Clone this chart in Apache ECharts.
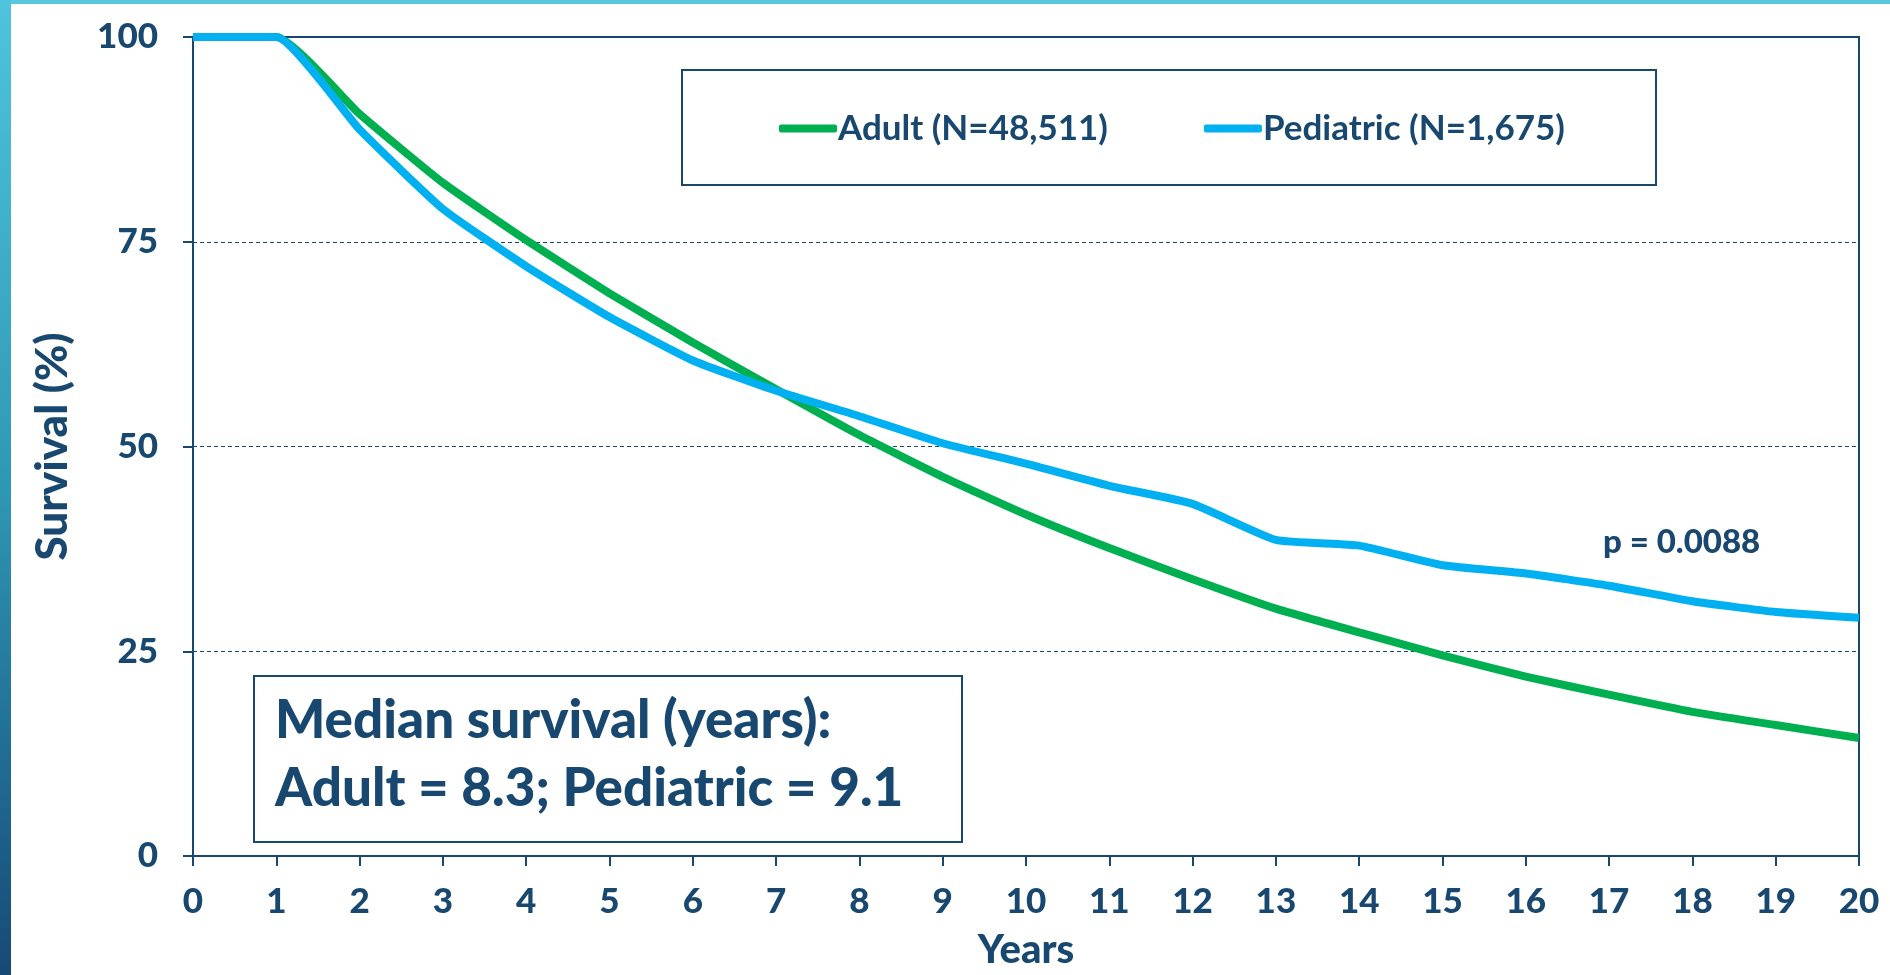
<!DOCTYPE html>
<html>
<head>
<meta charset="utf-8">
<script src="https://cdn.jsdelivr.net/npm/echarts@6/dist/echarts.min.js"></script>
<style>
  html, body { margin: 0; padding: 0; background: #fff; }
  #chart { width: 1890px; height: 975px; }
</style>
</head>
<body>
<div id="chart"></div>
<script>
// survival curves, one value per year
const years = [0, 1, 2, 3, 4, 5, 6, 7, 8, 9, 10, 11, 12, 13, 14, 15, 16, 17, 18, 19, 20];
const adult = [100, 100, 90.6, 82.2, 75.2, 68.7, 62.7, 57.0, 51.4, 46.3, 41.7, 37.6, 33.8, 30.2, 27.3, 24.5, 21.9, 19.7, 17.6, 16.0, 14.4];
const pediatric = [100, 100, 88.7, 79.0, 72.0, 65.8, 60.5, 56.8, 53.7, 50.4, 47.9, 45.2, 43.0, 38.6, 37.9, 35.5, 34.5, 33.0, 31.1, 29.8, 29.1];
const seriesNames = ['Adult (N=48,511)', 'Pediatric (N=1,675)'];
const yTicks = [0, 25, 50, 75, 100];

const navy = '#18486f';
const font = 'Lato';

const chart = echarts.init(document.getElementById('chart'));

chart.setOption({
    backgroundColor: '#fff',
    animation: false,
    textStyle: { fontFamily: font, color: navy, fontWeight: 'bold' },
    grid: {
        left: 193, right: 31, top: 37, bottom: 117,
        show: true, borderColor: navy, borderWidth: 2
    },
    legend: {
        data: seriesNames,
        left: 774, top: 106,
        itemWidth: 58, itemHeight: 8,
        itemGap: 96,
        icon: 'roundRect',
        textStyle: { fontFamily: font, fontWeight: 'bold', fontSize: 35, color: navy, padding: [0, 0, 0, -4] }
    },
    xAxis: {
        type: 'value',
        min: 0, max: 20, interval: 1,
        name: 'Years',
        nameLocation: 'middle',
        nameGap: 74,
        nameTextStyle: { fontSize: 40, fontWeight: 900, color: navy },
        axisLine: { lineStyle: { color: navy, width: 2 } },
        axisTick: { show: true, length: 10, lineStyle: { color: navy, width: 2 } },
        axisLabel: { fontSize: 35, fontWeight: 900, color: navy, margin: 28 },
        splitLine: { show: false }
    },
    yAxis: {
        type: 'value',
        min: 0, max: 100, interval: 25,
        name: 'Survival (%)',
        nameLocation: 'middle',
        nameGap: 118,
        nameTextStyle: { fontSize: 44, fontWeight: 900, color: navy },
        axisLine: { show: true, lineStyle: { color: navy, width: 2 } },
        axisTick: { show: true, length: 10, lineStyle: { color: navy, width: 2 } },
        axisLabel: {
            fontSize: 35, fontWeight: 900, color: navy, margin: 35,
            formatter: v => yTicks.includes(v) ? String(v) : ''
        },
        splitLine: { show: true, lineStyle: { color: navy, width: 1, type: [4, 3] } }
    },
    series: [
        {
            name: seriesNames[0],
            type: 'line',
            data: years.map((y, i) => [y, adult[i]]),
            showSymbol: false,
            smooth: 0.15,
            lineStyle: { color: '#00b050', width: 8 },
            itemStyle: { color: '#00b050' },
            z: 2
        },
        {
            name: seriesNames[1],
            type: 'line',
            data: years.map((y, i) => [y, pediatric[i]]),
            showSymbol: false,
            smooth: 0.15,
            lineStyle: { color: '#00b0f0', width: 8 },
            itemStyle: { color: '#00b0f0' },
            z: 3
        }
    ],
    graphic: [
        // slide frame: thin cyan strip on top, gradient bar on the left
        {
            type: 'rect', left: 0, top: 0, z: 10,
            shape: { width: 1890, height: 4 },
            style: { fill: '#58c6de' }
        },
        {
            type: 'rect', left: 0, top: 0, z: 10,
            shape: { width: 11, height: 975 },
            style: {
                fill: new echarts.graphic.LinearGradient(0, 0, 0, 1, [
                    { offset: 0, color: '#4fc4dc' },
                    { offset: 0.5, color: '#2f97b6' },
                    { offset: 1, color: '#164a75' }
                ])
            }
        },
        // legend frame
        {
            type: 'rect', left: 681, top: 69, z: 1,
            shape: { width: 974, height: 115 },
            style: { fill: '#fff', stroke: navy, lineWidth: 2 }
        },
        // median survival box
        {
            type: 'rect', left: 253, top: 675, z: 5,
            shape: { width: 708, height: 166 },
            style: { fill: '#fff', stroke: navy, lineWidth: 2 }
        },
        {
            type: 'text', left: 275, top: 694, z: 6,
            style: { text: 'Median survival (years):', font: '900 53px ' + font, fill: navy }
        },
        {
            type: 'text', left: 275, top: 762, z: 6,
            style: { text: 'Adult = 8.3; Pediatric = 9.1', font: '900 53px ' + font, fill: navy }
        },
        {
            type: 'text', left: 1603, top: 526, z: 6,
            style: { text: 'p = 0.0088', font: '900 33px ' + font, fill: navy }
        }
    ]
});
</script>
</body>
</html>
